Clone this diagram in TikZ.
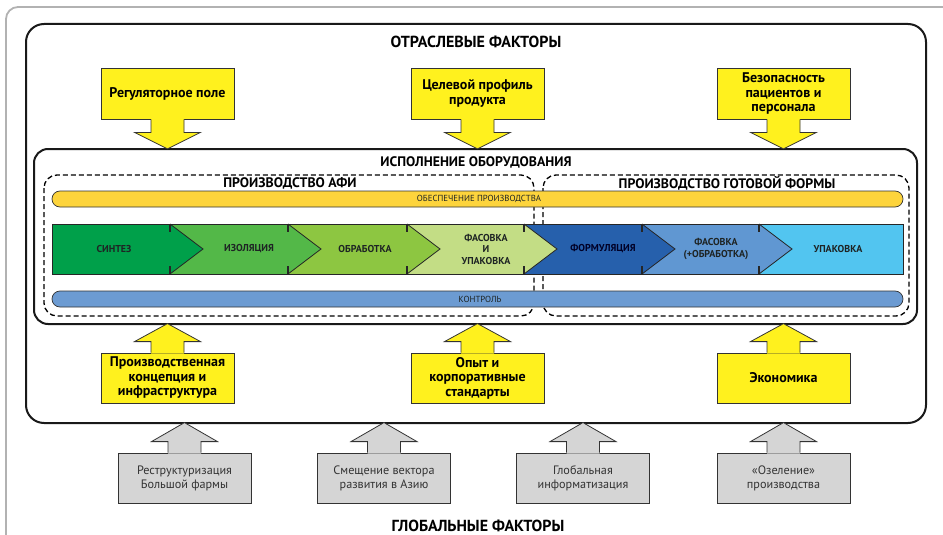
\documentclass[tikz,border=0pt]{standalone}
\usepackage{fontspec}
\setmainfont{PT Sans}
\usetikzlibrary{calc}
\definecolor{yel}{HTML}{FFF11E}
\definecolor{yelbar}{HTML}{FDD43C}
\definecolor{blubar}{HTML}{6C9BD2}
\definecolor{cA}{HTML}{00A04A}
\definecolor{cB}{HTML}{53B848}
\definecolor{cC}{HTML}{8DC641}
\definecolor{cD}{HTML}{C3DD85}
\definecolor{cE}{HTML}{2660AC}
\definecolor{cF}{HTML}{6097D2}
\definecolor{cG}{HTML}{52C5F0}
\definecolor{graybox}{HTML}{D5D5D5}
\definecolor{lineC}{HTML}{333333}
\definecolor{txtgray}{HTML}{333333}
\definecolor{txtdark}{HTML}{1E2424}

\newcommand\arrdn[4]{%
  \fill[#4] ([shift={(-16.5pt,1pt)}]#1) -- ([shift={(-16.5pt,-#2)}]#1) -- ([shift={(-33pt,-#2)}]#1) -- ([shift={(0pt,-#3)}]#1) -- ([shift={(33pt,-#2)}]#1) -- ([shift={(16.5pt,-#2)}]#1) -- ([shift={(16.5pt,1pt)}]#1) -- cycle;
  \draw[arrline] ([shift={(-16.5pt,0pt)}]#1) -- ([shift={(-16.5pt,-#2)}]#1) -- ([shift={(-33pt,-#2)}]#1) -- ([shift={(0pt,-#3)}]#1) -- ([shift={(33pt,-#2)}]#1) -- ([shift={(16.5pt,-#2)}]#1) -- ([shift={(16.5pt,0pt)}]#1);
}
\newcommand\arrup[4]{%
  \fill[#4] ([shift={(-16.5pt,-1pt)}]#1) -- ([shift={(-16.5pt,#2)}]#1) -- ([shift={(-33pt,#2)}]#1) -- ([shift={(0pt,#3)}]#1) -- ([shift={(33pt,#2)}]#1) -- ([shift={(16.5pt,#2)}]#1) -- ([shift={(16.5pt,-1pt)}]#1) -- cycle;
  \draw[arrline] ([shift={(-16.5pt,0pt)}]#1) -- ([shift={(-16.5pt,#2)}]#1) -- ([shift={(-33pt,#2)}]#1) -- ([shift={(0pt,#3)}]#1) -- ([shift={(33pt,#2)}]#1) -- ([shift={(16.5pt,#2)}]#1) -- ([shift={(16.5pt,0pt)}]#1);
}

\begin{document}
\begin{tikzpicture}[x=1pt,y=-1pt,
  ybox/.style={draw=lineC, line width=0.8pt, fill=yel, minimum width=133pt, minimum height=51pt, inner sep=0pt, align=center, text=black, font=\fontsize{14}{14.5}\selectfont\bfseries},
  gbox/.style={draw=lineC, line width=0.8pt, fill=graybox, minimum width=133pt, minimum height=50pt, inner sep=0pt, align=center, text=txtgray, font=\fontsize{12.2}{14}\selectfont},
  arrline/.style={draw=lineC, line width=0.8pt, line join=miter},
  frame/.style={draw=black!90, line width=2pt, rounded corners=18pt},
  dashbox/.style={draw=black, line width=1.3pt, dash pattern=on 5pt off 3pt, rounded corners=13pt},
  bigtitle/.style={font=\fontsize{16}{18}\selectfont\bfseries},
  midtitle/.style={font=\fontsize{13.8}{15}\selectfont\bfseries},
  bartxt/.style={font=\fontsize{8.8}{9}\selectfont, text=txtdark},
  chevtxt/.style={font=\fontsize{10}{11.5}\selectfont\bfseries, text=txtdark, align=center, inner sep=0pt},
  chevline/.style={draw=black!85, line width=0.8pt},
  tickline/.style={draw=black!85, line width=1.4pt},
  barline/.style={draw=lineC, line width=0.7pt, rounded corners=8pt},
]
\useasboundingbox (0,0) rectangle (943,535);
\clip (0,0) rectangle (943,535);

% light gray outer frame
\draw[black!30, line width=1.8pt, rounded corners=12pt] (6,7) rectangle (955,548);

% main frames
\draw[frame] (26,24) rectangle (926,423);
\node[bigtitle] (otr) at (476,42) {ОТРАСЛЕВЫЕ ФАКТОРЫ};

\draw[frame, rounded corners=14pt] (34,149) rectangle (917,324);
\node[midtitle] (isp) at (476,162) {ИСПОЛНЕНИЕ ОБОРУДОВАНИЯ};

% dashed boxes
\draw[dashbox] (44,175) rectangle (534,316);
\draw[dashbox] (543,175) rectangle (909,316);
\node[midtitle] (afi) at (290,183) {ПРОИЗВОДСТВО АФИ};
\node[midtitle] (gf) at (727,183) {ПРОИЗВОДСТВО ГОТОВОЙ ФОРМЫ};

% bars
\draw[barline, fill=yelbar] (52,191) rectangle (903,207);
\node[bartxt] (obes) at (479,199) {ОБЕСПЕЧЕНИЕ ПРОИЗВОДСТВА};
\draw[barline, fill=blubar] (52,291) rectangle (903,307);
\node[bartxt] (kontr) at (480,299) {КОНТРОЛЬ};

% chevron row
\foreach \a/\b/\c in {52/170/cA,170/288/cB,288/407/cC,407/524/cD,524/642/cE,642/759/cF,759/903/cG}
  \fill[\c] (\a,224) rectangle (\b,274);
\foreach \b/\c in {170/cA,288/cB,407/cC,524/cD,642/cE,759/cF}{
  \fill[\c] (\b,224) -- (\b+33,249) -- (\b,274) -- cycle;
  \draw[chevline] (\b,224) -- (\b+33,249) -- (\b,274);
  \draw[tickline] (\b,224) -- (\b,232) (\b,266) -- (\b,274);
}
\draw[chevline] (52,224) rectangle (903,274);

\node[chevtxt] (s1) at (114,249) {СИНТЕЗ};
\node[chevtxt] (s2) at (249,249) {ИЗОЛЯЦИЯ};
\node[chevtxt] (s3) at (365,249) {ОБРАБОТКА};
\node[chevtxt] (s4) at (486,249) {ФАСОВКА\\И\\УПАКОВКА};
\node[chevtxt, text=black!85!blue] (s5) at (603,249) {ФОРМУЛЯЦИЯ};
\node[chevtxt] (s6) at (716,249) {ФАСОВКА\\(+ОБРАБОТКА)};
\node[chevtxt] (s7) at (838,249) {УПАКОВКА};

% top yellow boxes
\node[ybox] (t1) at (167.5,93.5) {Регуляторное поле};
\node[ybox] (t2) at (477.5,93.5) {Целевой профиль\\продукта};
\node[ybox] (t3) at (783.5,93.5) {Безопасность\\пациентов и\\персонала};
\arrdn{t1.south}{13pt}{29.5pt}{yel}
\arrdn{t2.south}{13pt}{29.5pt}{yel}
\arrdn{t3.south}{13pt}{29.5pt}{yel}

% bottom yellow boxes
\node[ybox, minimum height=50pt] (b1) at (167.5,378) {Производственная\\концепция и\\инфраструктура};
\node[ybox, minimum height=50pt] (b2) at (477.5,378) {Опыт и\\корпоративные\\стандарты};
\node[ybox, minimum height=50pt] (b3) at (783.5,378) {Экономика};
\arrup{b1.north}{11pt}{29pt}{yel}
\arrup{b2.north}{11pt}{29pt}{yel}
\arrup{b3.north}{11pt}{29pt}{yel}

% gray boxes
\node[gbox] (g1) at (184.5,478) {Реструктуризация\\Большой фармы};
\node[gbox] (g2) at (384,478) {Смещение вектора\\развития в Азию};
\node[gbox] (g3) at (583,478) {Глобальная\\информатизация};
\node[gbox] (g4) at (783.5,478) {«Озеление»\\производства};
\arrup{g1.north}{11pt}{30pt}{graybox}
\arrup{g2.north}{11pt}{30pt}{graybox}
\arrup{g3.north}{11pt}{30pt}{graybox}
\arrup{g4.north}{11pt}{30pt}{graybox}

\node[bigtitle] (glob) at (478,526) {ГЛОБАЛЬНЫЕ ФАКТОРЫ};
\end{tikzpicture}
\end{document}
